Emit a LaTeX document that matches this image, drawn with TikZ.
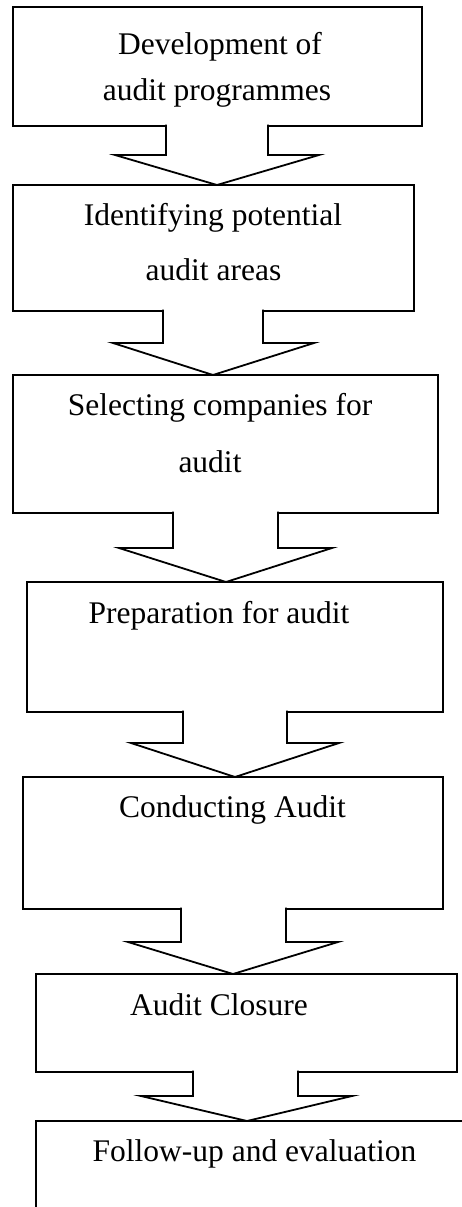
\documentclass[tikz,border=0pt]{standalone}
\usepackage{fontspec}
\setmainfont{Liberation Serif}
\newcommand\blockarrow[8]{%
  \draw[arrowshape] ([yshift=1.3pt]#3,0 |- #1.south) -- (#3,#7) -- (#5,#7) -- (#8,0 |- #2.north)
    -- (#6,#7) -- (#4,#7) -- ([yshift=1.3pt]#4,0 |- #1.south);}
\begin{document}
\begin{tikzpicture}[x=1pt,y=-1pt,
  box/.style={draw=black,line width=1.8pt,inner sep=0pt,outer sep=0pt,anchor=north west},
  lbl/.style={font=\fontsize{31.5}{36}\selectfont,inner sep=0pt,anchor=base},
  arrowshape/.style={draw=black,fill=white,line width=1.8pt,line join=miter}]
\useasboundingbox (0,0) rectangle (462,1207);
\fill[white] (0,0) rectangle (462,1207);
% boxes
\node[box,minimum width=409pt,minimum height=119pt] (b1) at (13,7) {};
\node[box,minimum width=401pt,minimum height=126pt] (b2) at (13,185) {};
\node[box,minimum width=425pt,minimum height=138pt] (b3) at (13,375) {};
\node[box,minimum width=416pt,minimum height=130pt] (b4) at (27,582) {};
\node[box,minimum width=420pt,minimum height=132pt] (b5) at (23,777) {};
\node[box,minimum width=421pt,minimum height=98pt] (b6) at (36,974) {};
\node[box,minimum width=440pt,minimum height=110pt] (b7) at (36,1121) {};
% block arrows
\blockarrow{b1}{b2}{166}{268}{115}{319}{155}{217}
\blockarrow{b2}{b3}{163}{263}{113}{314}{343}{213}
\blockarrow{b3}{b4}{173}{278}{119}{332}{548}{226}
\blockarrow{b4}{b5}{183}{287}{131}{339}{743}{235}
\blockarrow{b5}{b6}{181}{286}{128}{338}{942}{233}
\blockarrow{b6}{b7}{193}{298}{141}{352}{1096}{247}
% texts
\node[lbl] (t1a) at (220,55) {Development of};
\node[lbl] (t1b) at (217,100) {audit programmes};
\node[lbl] (t2a) at (213,225) {Identifying potential};
\node[lbl] (t2b) at (213.5,280) {audit areas};
\node[lbl] (t3a) at (220,415) {Selecting companies for};
\node[lbl] (t3b) at (210,472) {audit};
\node[lbl] (t4) at (219,623) {Preparation for audit};
\node[lbl] (t5) at (232.5,817) {Conducting Audit};
\node[lbl] (t6) at (219,1015) {Audit Closure};
\node[lbl] (t7) at (254.5,1161) {Follow-up and evaluation};
\end{tikzpicture}
\end{document}
